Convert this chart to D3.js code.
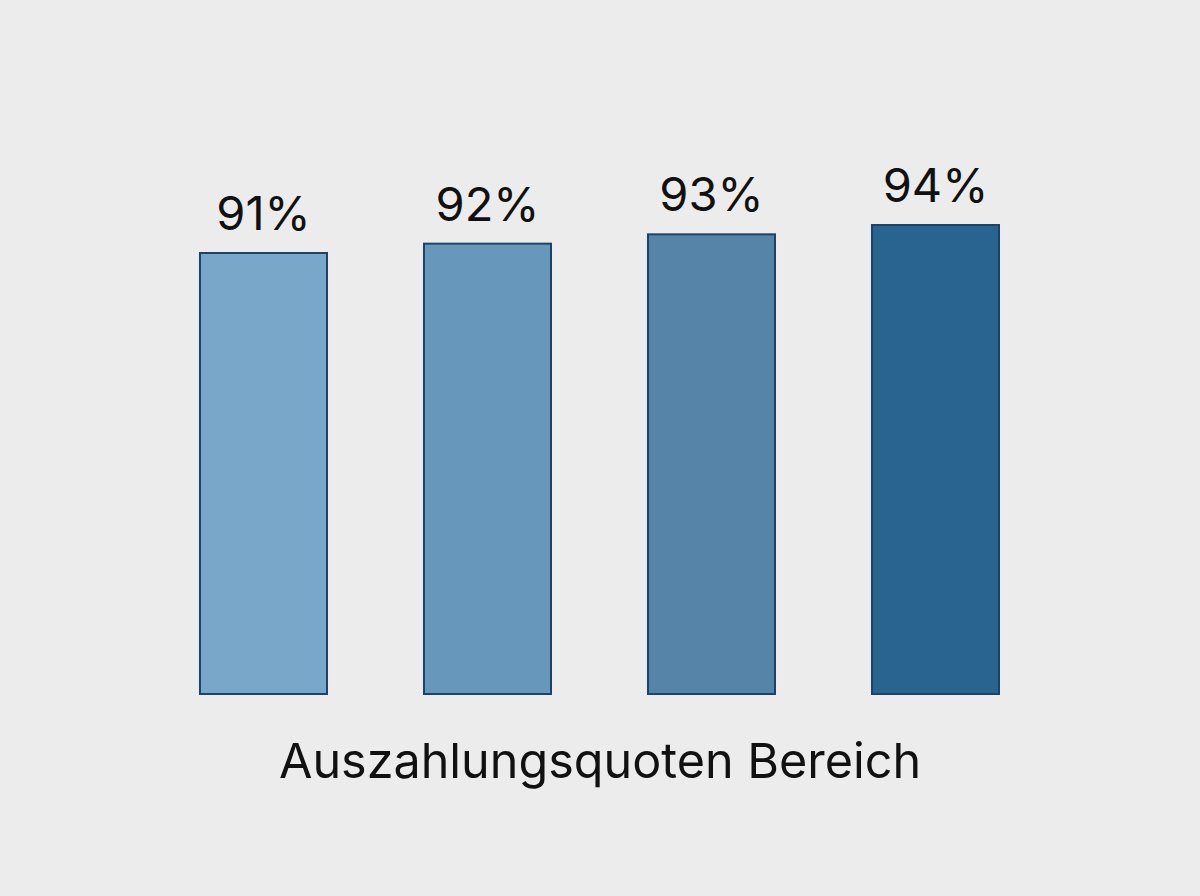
<!DOCTYPE html>
<html>
<head>
<meta charset="utf-8">
<script src="https://cdn.jsdelivr.net/npm/d3@7"></script>
<style>
  html, body { margin: 0; padding: 0; background: #ececec; }
  svg { display: block; }
</style>
</head>
<body>
<script>
// Data
const categories = ["A", "B", "C", "D"];
const values = [91, 92, 93, 94];
const barColors = ["#79a7c9", "#6897bc", "#5584a8", "#29638f"];
const title = "Auszahlungsquoten Bereich";

const width = 1200, height = 896;

const svg = d3.select("body").append("svg")
  .attr("width", width)
  .attr("height", height);

svg.append("rect")
  .attr("width", width)
  .attr("height", height)
  .attr("fill", "#ececec");

// Band scale: bars 127px wide, 224px step
const x = d3.scaleBand()
  .domain(categories)
  .range([151.5, 1047.5])
  .paddingInner(0.433)
  .paddingOuter(0.2165);

// Baseline is not zero in the picture
const y = d3.scaleLinear()
  .domain([43.75, 94])
  .range([694, 225]);

svg.selectAll(".bar")
  .data(values)
  .join("rect")
  .attr("class", "bar")
  .attr("x", (d, i) => x(categories[i]))
  .attr("y", d => y(d))
  .attr("width", x.bandwidth())
  .attr("height", d => y.range()[0] - y(d))
  .attr("fill", (d, i) => barColors[i])
  .attr("stroke", "#1d4467")
  .attr("stroke-width", 2);

svg.selectAll(".label")
  .data(values)
  .join("text")
  .attr("class", "label")
  .attr("x", (d, i) => x(categories[i]) + x.bandwidth() / 2)
  .attr("y", d => y(d) - 23)
  .attr("text-anchor", "middle")
  .attr("font-family", "Inter, 'Noto Sans', sans-serif")
  .attr("font-size", 47)
  .attr("fill", "#111")
  .text(d => `${d}%`);

svg.append("text")
  .attr("x", 600)
  .attr("y", 778)
  .attr("text-anchor", "middle")
  .attr("font-family", "Inter, 'Noto Sans', sans-serif")
  .attr("font-size", 48.5)
  .attr("fill", "#111")
  .text(title);
</script>
</body>
</html>
